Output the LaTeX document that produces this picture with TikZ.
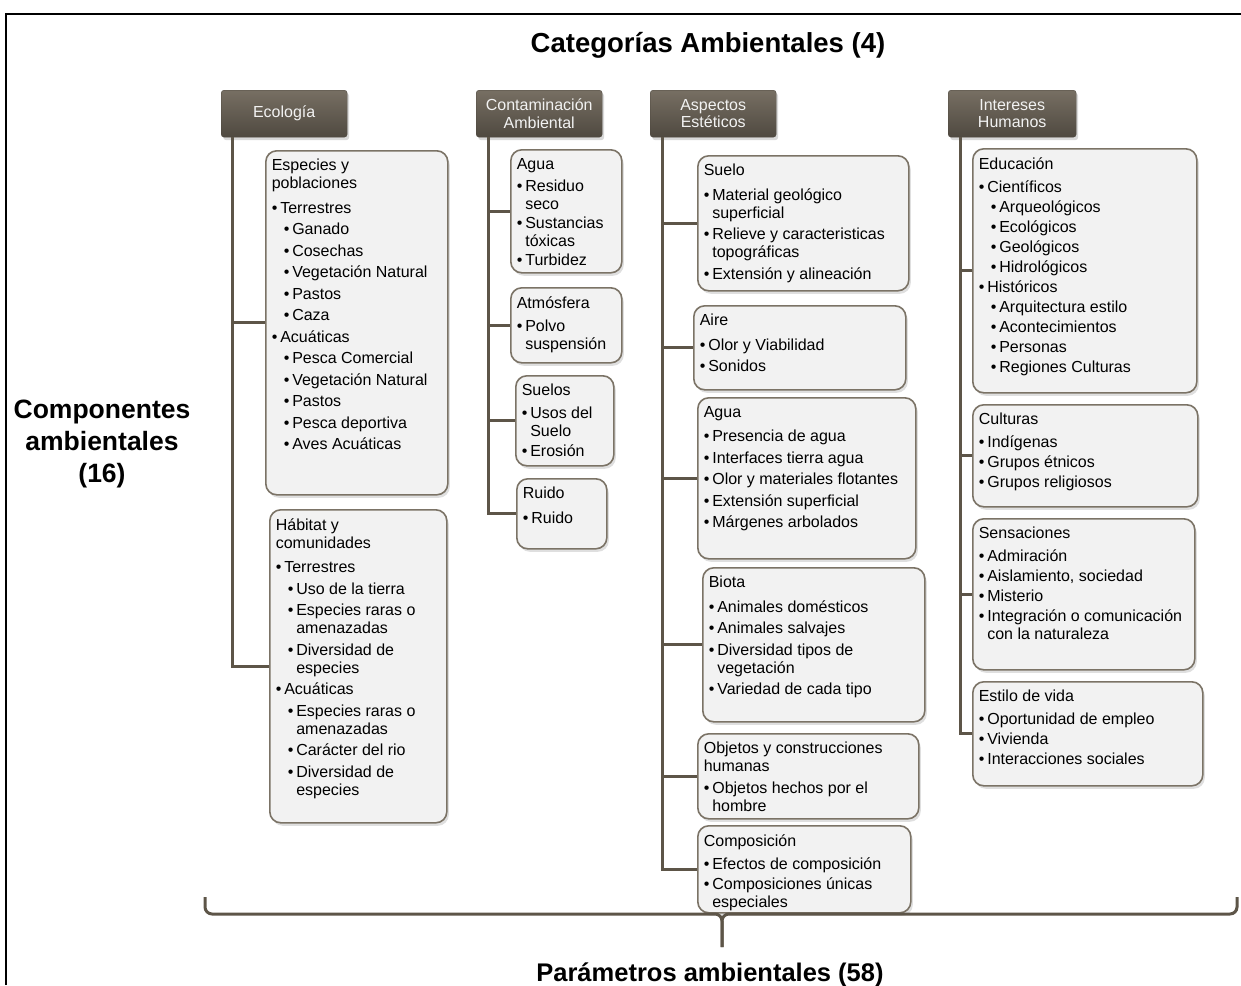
\documentclass[tikz,border=0pt]{standalone}
\usepackage{fontspec}
\setmainfont{Liberation Sans}
\usepackage{tikz}
\usetikzlibrary{shadows}

\definecolor{hdrTop}{HTML}{776F63}
\definecolor{hdrBot}{HTML}{4F4940}
\definecolor{hdrText}{HTML}{F2F2F2}
\definecolor{boxLine}{HTML}{7B7366}
\definecolor{boxFill}{HTML}{F2F2F2}
\definecolor{linkCol}{HTML}{5D5548}

% text inside a content box: #2 = width, #3 = height of the box, #4 = heading
\newcommand{\cbody}[5][3.5pt]{%
  \begin{minipage}[c][\dimexpr#3pt-17pt\relax][t]{\dimexpr#2pt-12pt\relax}%
  \raggedright\setlength{\parskip}{#1}#4\par\vspace{3pt}#5%
  \end{minipage}}
\newcommand{\bul}[1]{\par\hangindent=8.5pt\hangafter=1\makebox[8.5pt][l]{\textbullet}#1}
\newcommand{\sbul}[1]{\par\hangindent=20.5pt\hangafter=1\hspace*{12pt}\makebox[8.5pt][l]{\textbullet}#1}

\begin{document}
\begin{tikzpicture}
  [x=1pt,y=-1pt,
   hdr/.style={rectangle,rounded corners=3pt,minimum width=126pt,minimum height=47pt,
     top color=hdrTop,bottom color=hdrBot,draw=hdrBot,text=hdrText,align=center,
     inner sep=2pt,anchor=north west,font=\fontsize{16}{17.5}\selectfont,
     drop shadow={opacity=.3,shadow xshift=2pt,shadow yshift=-3pt}},
   cbox/.style={rectangle,rounded corners=11pt,draw=boxLine,line width=1.6pt,fill=boxFill,
     inner xsep=6pt,inner ysep=8.5pt,anchor=north west,font=\fontsize{16}{18}\selectfont,
     drop shadow={opacity=.25,shadow xshift=2pt,shadow yshift=-3pt}},
   bigtext/.style={font=\fontsize{26.5}{32}\selectfont\bfseries,align=center}]
 \tikzset{link/.style={draw=linkCol,line width=3pt}}
 \useasboundingbox (0,0) rectangle (1241,985);

 % frame
 \draw[line width=1.5pt] (6,985) -- (6,14) -- (1241,14);

 \node[bigtext,font=\fontsize{27.5}{32}\selectfont\bfseries] (titulo) at (708,45) {Categorías Ambientales (4)};
 \node[bigtext] (compo16) at (102,444) {Componentes\\ambientales\\(16)};
 \node[bigtext,font=\fontsize{25.5}{32}\selectfont\bfseries,anchor=base] (param) at (710,981) {Parámetros ambientales (58)};

 % categories
 \node[hdr] (eco) at (221,90) {Ecología};
 \node[hdr] (conta) at (476,90) {Contaminación\\Ambiental};
 \node[hdr] (estet) at (650,90) {Aspectos\\Estéticos};
 \node[hdr,minimum width=128pt] (inter) at (948,90) {Intereses\\Humanos};

 % Ecologia
 \node[cbox] (esp) at (265,150) {\cbody{182}{344}{Especies y\newline poblaciones}{%
   \bul{Terrestres}\sbul{Ganado}\sbul{Cosechas}\sbul{Vegetación Natural}\sbul{Pastos}\sbul{Caza}
   \bul{Acuáticas}\sbul{Pesca Comercial}\sbul{Vegetación Natural}\sbul{Pastos}
   \sbul{Pesca deportiva}\sbul{Aves Acuáticas}}};
 \node[cbox] (hab) at (269,509) {\cbody{177}{313}{Hábitat y\newline comunidades}{%
   \bul{Terrestres}\sbul{Uso de la tierra}\sbul{Especies raras o\newline amenazadas}
   \sbul{Diversidad de\newline especies}
   \bul{Acuáticas}\sbul{Especies raras o\newline amenazadas}\sbul{Carácter del rio}
   \sbul{Diversidad de\newline especies}}};

 % Contaminacion
 \node[cbox] (cagua) at (510,149) {\cbody[1pt]{111}{123}{Agua}{%
   \bul{Residuo\newline seco}\bul{Sustancias\newline tóxicas}\bul{Turbidez}}};
 \node[cbox] (atmos) at (510,287) {\cbody[2pt]{111}{75}{Atmósfera}{%
   \bul{Polvo\newline suspensión}}};
 \node[cbox] (suelos) at (515,375) {\cbody[2pt]{98}{90}{Suelos}{%
   \bul{Usos del\newline Suelo}\bul{Erosión}}};
 \node[cbox] (ruido) at (516,478) {\cbody{90}{70}{Ruido}{%
   \bul{Ruido}}};

 % Aspectos esteticos
 \node[cbox] (suelo) at (697,155) {\cbody{211}{135}{Suelo}{%
   \bul{Material geológico\newline superficial}\bul{Relieve y caracteristicas\newline topográficas}
   \bul{Extensión y alineación}}};
 \node[cbox] (aire) at (693,305) {\cbody{212}{84}{Aire}{%
   \bul{Olor y Viabilidad}\bul{Sonidos}}};
 \node[cbox] (agua) at (697,397) {\cbody{218}{161}{Agua}{%
   \bul{Presencia de agua}\bul{Interfaces tierra agua}\bul{Olor y materiales flotantes}
   \bul{Extensión superficial}\bul{Márgenes arbolados}}};
 \node[cbox] (biota) at (702,567) {\cbody{222}{154}{Biota}{%
   \bul{Animales domésticos}\bul{Animales salvajes}\bul{Diversidad tipos de\newline vegetación}
   \bul{Variedad de cada tipo}}};
 \node[cbox] (objetos) at (697,733) {\cbody[1pt]{221}{85}{Objetos y construcciones\newline humanas}{%
   \bul{Objetos hechos por el\newline hombre}}};
 \node[cbox] (compos) at (697,825) {\cbody[2pt]{213}{87}{Composición}{%
   \bul{Efectos de composición}\bul{Composiciones únicas\newline especiales}}};

 % Intereses humanos
 \node[cbox] (educ) at (972,148) {\cbody[2pt]{224}{244}{Educación}{%
   \bul{Científicos}\sbul{Arqueológicos}\sbul{Ecológicos}\sbul{Geológicos}\sbul{Hidrológicos}
   \bul{Históricos}\sbul{Arquitectura estilo}\sbul{Acontecimientos}\sbul{Personas}
   \sbul{Regiones Culturas}}};
 \node[cbox] (cult) at (972,404) {\cbody[2pt]{225}{102}{Culturas}{%
   \bul{Indígenas}\bul{Grupos étnicos}\bul{Grupos religiosos}}};
 \node[cbox] (sens) at (972,518) {\cbody[2pt]{222}{151}{Sensaciones}{%
   \bul{Admiración}\bul{Aislamiento, sociedad}\bul{Misterio}
   \bul{Integración o comunicación\newline con la naturaleza}}};
 \node[cbox] (estilo) at (972,681) {\cbody[2pt]{230}{104}{Estilo de vida}{%
   \bul{Oportunidad de empleo}\bul{Vivienda}\bul{Interacciones sociales}}};

 % trunks
 \coordinate (ecoT) at ([xshift=11pt]eco.south west);
 \coordinate (contaT) at ([xshift=12pt]conta.south west);
 \coordinate (estetT) at ([xshift=12pt]estet.south west);
 \coordinate (interT) at ([xshift=12pt]inter.south west);

 \foreach \from/\to in {ecoT/esp,ecoT/hab,contaT/cagua,contaT/atmos,contaT/suelos,contaT/ruido,
   estetT/suelo,estetT/aire,estetT/agua,estetT/biota,estetT/objetos,estetT/compos,
   interT/educ,interT/cult,interT/sens,interT/estilo}
    \draw[link] (\from) |- (\to.west);

 % brace
 \coordinate (bl) at (205,897);
 \coordinate (br) at (1237,897);
 \coordinate (bm) at (722,914);
 \coordinate (bt) at (722,947);
 \draw[link,rounded corners=7pt] (bl) |- (bm) -- (bt);
 \draw[link,rounded corners=7pt] (br) |- (bm) -- (bt);

\end{tikzpicture}
\end{document}
